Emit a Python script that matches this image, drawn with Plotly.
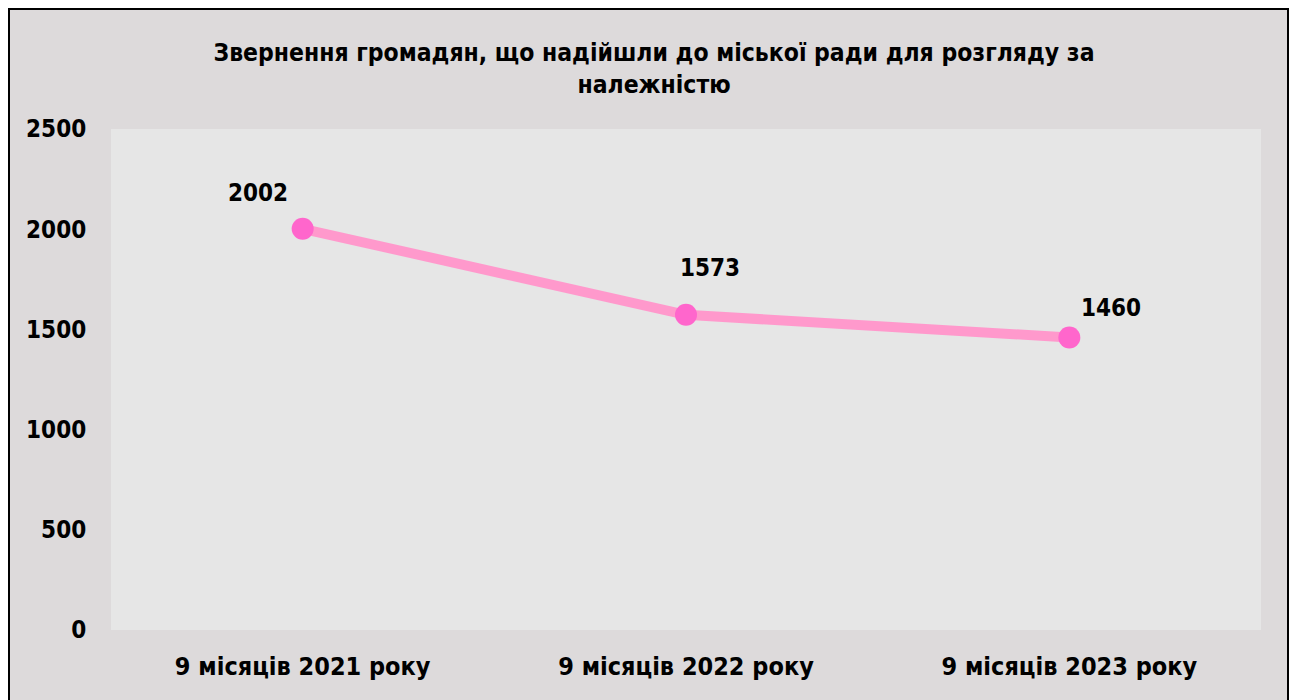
import plotly.graph_objects as go

categories = ["9 місяців 2021 року", "9 місяців 2022 року", "9 місяців 2023 року"]
values = [2002, 1573, 1460]
y_ticks = [0, 500, 1000, 1500, 2000, 2500]
title_text = "Звернення громадян, що надійшли до міської ради для розгляду за<br>належністю"

# label offsets (pixels) relative to each point
label_dx = [-45, 24, 42]
label_dy = [36, 47, 29]

FONT = "DejaVu Sans Condensed"
W, H = 1297, 700
ML, MR, MT, MB = 111, 36, 129, 70
pw = W - ML - MR
ph = H - MT - MB

fig = go.Figure()
fig.add_trace(go.Scatter(
    x=categories, y=values, mode="lines+markers",
    line=dict(color="#FF99CC", width=10),
    marker=dict(color="#FF66CC", size=22),
    hoverinfo="x+y", showlegend=False,
))

for c, v, dx, dy in zip(categories, values, label_dx, label_dy):
    fig.add_annotation(x=c, y=v, text=f"<b>{v}</b>", showarrow=False,
                       xshift=dx, yshift=dy,
                       font=dict(family=FONT, size=24, color="#000000"))

def px_x(p):
    return (p - ML) / pw
def px_y(p):
    return (H - MB - p) / ph

fig.add_shape(type="rect", xref="paper", yref="paper",
              x0=px_x(9), x1=px_x(1288), y0=px_y(720), y1=px_y(9),
              fillcolor="#DDDADB", line=dict(color="#000000", width=2), layer="below")
fig.add_shape(type="rect", xref="paper", yref="paper",
              x0=0, x1=1, y0=0, y1=1,
              fillcolor="#E6E6E6", line=dict(width=0), layer="below")

fig.update_layout(
    width=W, height=H,
    margin=dict(l=ML, r=MR, t=MT, b=MB),
    paper_bgcolor="#FFFFFF",
    plot_bgcolor="#E6E6E6",
    title=dict(text="<b>" + title_text + "</b>", x=654 / W, xanchor="center",
               y=1 - 61 / H, yanchor="middle",
               font=dict(family=FONT, size=24.5, color="#000000")),
    font=dict(family=FONT, color="#000000"),
    xaxis=dict(type="category", showgrid=False, zeroline=False, showline=False,
               ticks="outside", ticklen=14, tickcolor="rgba(0,0,0,0)",
               tickfont=dict(family=FONT, size=25, color="#000000", weight="bold"),
               range=[-0.5, 2.5]),
    yaxis=dict(range=[0, 2500], tickvals=y_ticks, showgrid=False, zeroline=False,
               showline=False, ticks="outside", ticklen=19, tickcolor="rgba(0,0,0,0)",
               tickfont=dict(family=FONT, size=24, color="#000000", weight="bold")),
)

fig.write_html("out.html")
